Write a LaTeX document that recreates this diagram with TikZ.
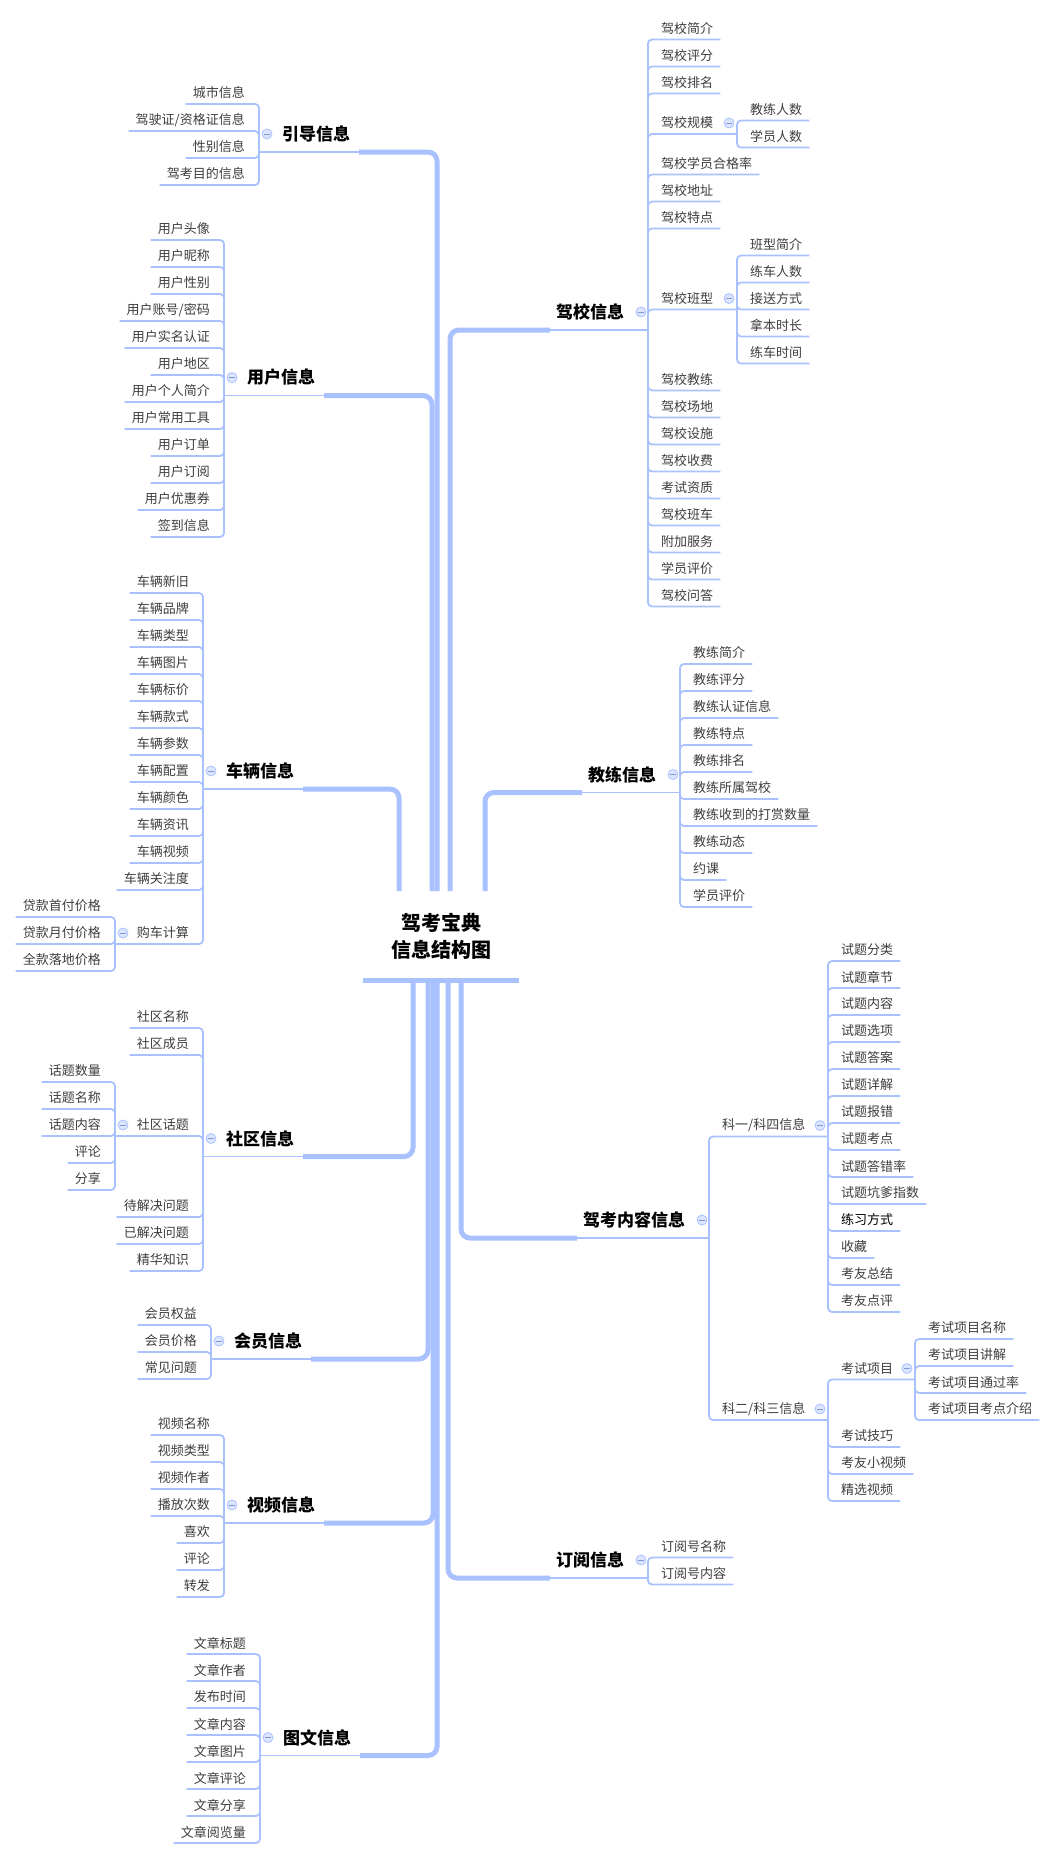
\documentclass[tikz,border=0pt]{standalone}
\usepackage{fontspec}
\setmainfont{Noto Sans CJK SC}
\usetikzlibrary{calc}
\definecolor{linec}{RGB}{170,193,255}
\definecolor{leafc}{RGB}{62,62,62}
\definecolor{iconfill}{RGB}{220,229,255}
\definecolor{minusc}{RGB}{130,150,210}
\tikzset{
  leaf/.style={inner sep=0pt, font=\fontsize{13}{13}\selectfont, text=leafc},
  topic/.style={inner sep=0pt, font=\fontsize{17}{17}\selectfont\bfseries, text=black},
  rootnode/.style={inner sep=0pt, align=center, font=\fontsize{20}{27}\selectfont\bfseries, text=black},
  thinline/.style={draw=linec, line width=1.8pt, rounded corners=4pt},
  thickline/.style={draw=linec, line width=5pt, rounded corners=9pt},
  rootline/.style={draw=linec, line width=5pt},
  icon/.style={circle, draw=linec, fill=iconfill, minimum size=10pt, inner sep=0pt, line width=0.8pt,
    path picture={\draw[minusc, line width=0.9pt] ([xshift=-2.6pt]path picture bounding box.center) -- ([xshift=2.6pt]path picture bounding box.center);}}
}
% right leaf: name, junction, xb, y, text
\newcommand{\leafR}[5]{\node[leaf,anchor=west] (#1) at (#3+13,#4) {#5};\draw[thinline] (#2) |- ($(#1.east)+(7,11)$);}
% left leaf
\newcommand{\leafL}[5]{\node[leaf,anchor=east] (#1) at (#3-14,#4) {#5};\draw[thinline] (#2) |- ($(#1.west)+(-7,11)$);}
% right sub-parent: name, junction, xb, y, text, subxb, new junction
\newcommand{\subR}[7]{\node[leaf,anchor=west] (#1) at (#3+13,#4) {#5};\coordinate (#7) at (#6,#4+11);\draw[thinline] (#2) |- (#7);\node[icon] (#1-ic) at (#6-8,#4) {};}
\newcommand{\subL}[7]{\node[leaf,anchor=east] (#1) at (#3-14,#4) {#5};\coordinate (#7) at (#6,#4+11);\draw[thinline] (#2) |- (#7);\node[icon] (#1-ic) at (#6+8,#4) {};}
% right topic: name, trunk, textleft, y, text, xb, junction
\newcommand{\topicR}[7]{\node[topic,anchor=west] (#1) at (#3,#4) {#5};\coordinate (#1-e) at (#3-6,#4+18);\draw[thickline] (#2) |- (#1-e);\coordinate (#7) at (#6,#4+18);\draw[thinline] (#1-e) -- (#7);\node[icon] (#1-ic) at (#6-7,#4) {};}
% left topic: name, trunk, xb, y, text, junction
\newcommand{\topicL}[6]{\node[topic,anchor=west] (#1) at (#3+23,#4) {#5};\coordinate (#1-e) at (#3+100,#4+18);\draw[thickline] (#2) |- (#1-e);\coordinate (#6) at (#3,#4+18);\draw[thinline] (#1-e) -- (#6);\node[icon] (#1-ic) at (#3+8,#4) {};}
\begin{document}
\begin{tikzpicture}[x=1pt,y=-1pt]
\useasboundingbox[fill=white] (0,0) rectangle (1057,1860);
% trunk points
\coordinate (t-yd) at (437,891);
\coordinate (t-yh) at (432,891);
\coordinate (t-cl) at (399,891);
\coordinate (t-jx) at (450,891);
\coordinate (t-jl) at (485,891);
\coordinate (t-sq) at (413,980);
\coordinate (t-hy) at (428,980);
\coordinate (t-sp) at (433,980);
\coordinate (t-tw) at (437,980);
\coordinate (t-dy) at (448,980);
\coordinate (t-nr) at (461,980);
% root
\node[rootnode] (root) at (441,936.5) {驾考宝典\\信息结构图};
\coordinate (ru-l) at (363,980);
\coordinate (ru-r) at (519,980);
\draw[rootline] (ru-l) -- (ru-r);

% ===== 引导信息
\topicL{yd}{t-yd}{259}{134}{引导信息}{j-yd}
\leafL{yd1}{j-yd}{259}{93}{城市信息}
\leafL{yd2}{j-yd}{259}{120}{驾驶证/资格证信息}
\leafL{yd3}{j-yd}{259}{147}{性别信息}
\leafL{yd4}{j-yd}{259}{174}{驾考目的信息}

% ===== 用户信息
\topicL{yh}{t-yh}{224}{377.5}{用户信息}{j-yh}
\leafL{yh1}{j-yh}{224}{229}{用户头像}
\leafL{yh2}{j-yh}{224}{256}{用户昵称}
\leafL{yh3}{j-yh}{224}{283}{用户性别}
\leafL{yh4}{j-yh}{224}{310}{用户账号/密码}
\leafL{yh5}{j-yh}{224}{337}{用户实名认证}
\leafL{yh6}{j-yh}{224}{364}{用户地区}
\leafL{yh7}{j-yh}{224}{391}{用户个人简介}
\leafL{yh8}{j-yh}{224}{418}{用户常用工具}
\leafL{yh9}{j-yh}{224}{445}{用户订单}
\leafL{yh10}{j-yh}{224}{472}{用户订阅}
\leafL{yh11}{j-yh}{224}{499}{用户优惠券}
\leafL{yh12}{j-yh}{224}{526}{签到信息}

% ===== 车辆信息
\topicL{cl}{t-cl}{203}{771}{车辆信息}{j-cl}
\leafL{cl1}{j-cl}{203}{582}{车辆新旧}
\leafL{cl2}{j-cl}{203}{609}{车辆品牌}
\leafL{cl3}{j-cl}{203}{636}{车辆类型}
\leafL{cl4}{j-cl}{203}{663}{车辆图片}
\leafL{cl5}{j-cl}{203}{690}{车辆标价}
\leafL{cl6}{j-cl}{203}{717}{车辆款式}
\leafL{cl7}{j-cl}{203}{744}{车辆参数}
\leafL{cl8}{j-cl}{203}{771}{车辆配置}
\leafL{cl9}{j-cl}{203}{798}{车辆颜色}
\leafL{cl10}{j-cl}{203}{825}{车辆资讯}
\leafL{cl11}{j-cl}{203}{852}{车辆视频}
\leafL{cl12}{j-cl}{203}{879}{车辆关注度}
\subL{cl13}{j-cl}{203}{933}{购车计算}{115}{j-gc}
\leafL{gc1}{j-gc}{115}{906}{贷款首付价格}
\leafL{gc2}{j-gc}{115}{933}{贷款月付价格}
\leafL{gc3}{j-gc}{115}{960}{全款落地价格}

% ===== 社区信息
\topicL{sq}{t-sq}{203}{1138.5}{社区信息}{j-sq}
\leafL{sq1}{j-sq}{203}{1017}{社区名称}
\leafL{sq2}{j-sq}{203}{1044}{社区成员}
\subL{sq3}{j-sq}{203}{1125}{社区话题}{115}{j-ht}
\leafL{ht1}{j-ht}{115}{1071}{话题数量}
\leafL{ht2}{j-ht}{115}{1098}{话题名称}
\leafL{ht3}{j-ht}{115}{1125}{话题内容}
\leafL{ht4}{j-ht}{115}{1152}{评论}
\leafL{ht5}{j-ht}{115}{1179}{分享}
\leafL{sq4}{j-sq}{203}{1206}{待解决问题}
\leafL{sq5}{j-sq}{203}{1233}{已解决问题}
\leafL{sq6}{j-sq}{203}{1260}{精华知识}

% ===== 会员信息
\topicL{hy}{t-hy}{211}{1341}{会员信息}{j-hy}
\leafL{hy1}{j-hy}{211}{1314}{会员权益}
\leafL{hy2}{j-hy}{211}{1341}{会员价格}
\leafL{hy3}{j-hy}{211}{1368}{常见问题}

% ===== 视频信息
\topicL{sp}{t-sp}{224}{1505}{视频信息}{j-sp}
\leafL{sp1}{j-sp}{224}{1424}{视频名称}
\leafL{sp2}{j-sp}{224}{1451}{视频类型}
\leafL{sp3}{j-sp}{224}{1478}{视频作者}
\leafL{sp4}{j-sp}{224}{1505}{播放次数}
\leafL{sp5}{j-sp}{224}{1532}{喜欢}
\leafL{sp6}{j-sp}{224}{1559}{评论}
\leafL{sp7}{j-sp}{224}{1586}{转发}

% ===== 图文信息
\topicL{tw}{t-tw}{260}{1737.5}{图文信息}{j-tw}
\leafL{tw1}{j-tw}{260}{1643}{文章标题}
\leafL{tw2}{j-tw}{260}{1670}{文章作者}
\leafL{tw3}{j-tw}{260}{1697}{发布时间}
\leafL{tw4}{j-tw}{260}{1724}{文章内容}
\leafL{tw5}{j-tw}{260}{1751}{文章图片}
\leafL{tw6}{j-tw}{260}{1778}{文章评论}
\leafL{tw7}{j-tw}{260}{1805}{文章分享}
\leafL{tw8}{j-tw}{260}{1832}{文章阅览量}

% ===== 驾校信息
\topicR{jx}{t-jx}{556}{312}{驾校信息}{648}{j-jx}
\leafR{jx1}{j-jx}{648}{28.5}{驾校简介}
\leafR{jx2}{j-jx}{648}{55.5}{驾校评分}
\leafR{jx3}{j-jx}{648}{82.5}{驾校排名}
\subR{jx4}{j-jx}{648}{123}{驾校规模}{737}{j-gm}
\leafR{gm1}{j-gm}{737}{109.5}{教练人数}
\leafR{gm2}{j-gm}{737}{136.5}{学员人数}
\leafR{jx5}{j-jx}{648}{163.5}{驾校学员合格率}
\leafR{jx6}{j-jx}{648}{190.5}{驾校地址}
\leafR{jx7}{j-jx}{648}{217.5}{驾校特点}
\subR{jx8}{j-jx}{648}{298.5}{驾校班型}{737}{j-bx}
\leafR{bx1}{j-bx}{737}{244.5}{班型简介}
\leafR{bx2}{j-bx}{737}{271.5}{练车人数}
\leafR{bx3}{j-bx}{737}{298.5}{接送方式}
\leafR{bx4}{j-bx}{737}{325.5}{拿本时长}
\leafR{bx5}{j-bx}{737}{352.5}{练车时间}
\leafR{jx9}{j-jx}{648}{379.5}{驾校教练}
\leafR{jx10}{j-jx}{648}{406.5}{驾校场地}
\leafR{jx11}{j-jx}{648}{433.5}{驾校设施}
\leafR{jx12}{j-jx}{648}{460.5}{驾校收费}
\leafR{jx13}{j-jx}{648}{487.5}{考试资质}
\leafR{jx14}{j-jx}{648}{514.5}{驾校班车}
\leafR{jx15}{j-jx}{648}{541.5}{附加服务}
\leafR{jx16}{j-jx}{648}{568.5}{学员评价}
\leafR{jx17}{j-jx}{648}{595.5}{驾校问答}

% ===== 教练信息
\topicR{jl}{t-jl}{588}{774.5}{教练信息}{680}{j-jl}
\leafR{jl1}{j-jl}{680}{653}{教练简介}
\leafR{jl2}{j-jl}{680}{680}{教练评分}
\leafR{jl3}{j-jl}{680}{707}{教练认证信息}
\leafR{jl4}{j-jl}{680}{734}{教练特点}
\leafR{jl5}{j-jl}{680}{761}{教练排名}
\leafR{jl6}{j-jl}{680}{788}{教练所属驾校}
\leafR{jl7}{j-jl}{680}{815}{教练收到的打赏数量}
\leafR{jl8}{j-jl}{680}{842}{教练动态}
\leafR{jl9}{j-jl}{680}{869}{约课}
\leafR{jl10}{j-jl}{680}{896}{学员评价}

% ===== 驾考内容信息
\topicR{nr}{t-nr}{583}{1220}{驾考内容信息}{709}{j-nr}
\subR{k1}{j-nr}{709}{1125.5}{科一/科四信息}{828}{j-k1}
\leafR{k1a}{j-k1}{828}{950}{试题分类}
\leafR{k1b}{j-k1}{828}{977}{试题章节}
\leafR{k1c}{j-k1}{828}{1004}{试题内容}
\leafR{k1d}{j-k1}{828}{1031}{试题选项}
\leafR{k1e}{j-k1}{828}{1058}{试题答案}
\leafR{k1f}{j-k1}{828}{1085}{试题详解}
\leafR{k1g}{j-k1}{828}{1112}{试题报错}
\leafR{k1h}{j-k1}{828}{1139}{试题考点}
\leafR{k1i}{j-k1}{828}{1166}{试题答错率}
\leafR{k1j}{j-k1}{828}{1193}{试题坑爹指数}
\leafR{k1k}{j-k1}{828}{1220}{\textcolor{black}{练习方式}}
\leafR{k1l}{j-k1}{828}{1247}{收藏}
\leafR{k1m}{j-k1}{828}{1274}{考友总结}
\leafR{k1n}{j-k1}{828}{1301}{考友点评}
\subR{k2}{j-nr}{709}{1409}{科二/科三信息}{828}{j-k2}
\subR{xm}{j-k2}{828}{1368.5}{考试项目}{915}{j-xm}
\leafR{xm1}{j-xm}{915}{1328}{考试项目名称}
\leafR{xm2}{j-xm}{915}{1355}{考试项目讲解}
\leafR{xm3}{j-xm}{915}{1382}{考试项目通过率}
\leafR{xm4}{j-xm}{915}{1409}{考试项目考点介绍}
\leafR{k2b}{j-k2}{828}{1436}{考试技巧}
\leafR{k2c}{j-k2}{828}{1463}{考友小视频}
\leafR{k2d}{j-k2}{828}{1490}{精选视频}

% ===== 订阅信息
\topicR{dy}{t-dy}{556}{1560}{订阅信息}{648}{j-dy}
\leafR{dy1}{j-dy}{648}{1546.5}{订阅号名称}
\leafR{dy2}{j-dy}{648}{1573.5}{订阅号内容}
\end{tikzpicture}
\end{document}
